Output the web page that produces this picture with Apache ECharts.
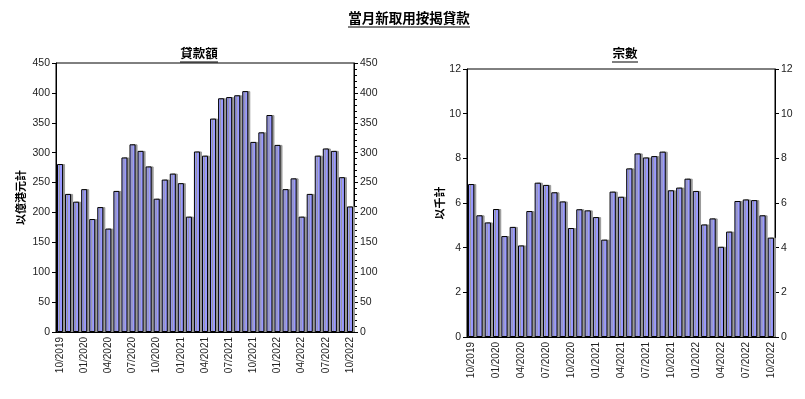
<!DOCTYPE html>
<html><head><meta charset="utf-8">
<script src="https://cdn.jsdelivr.net/npm/echarts@6/dist/echarts.min.js"></script>
<style>html,body{margin:0;padding:0;background:#fff}#c{width:805px;height:399px}</style>
</head><body><div id="c"></div>
<script>
const categories = ["10/2019","11/2019","12/2019","01/2020","02/2020","03/2020","04/2020","05/2020","06/2020","07/2020","08/2020","09/2020","10/2020","11/2020","12/2020","01/2021","02/2021","03/2021","04/2021","05/2021","06/2021","07/2021","08/2021","09/2021","10/2021","11/2021","12/2021","01/2022","02/2022","03/2022","04/2022","05/2022","06/2022","07/2022","08/2022","09/2022","10/2022"];
const loanAmount = [281,231,218,239,189,209,173,236,292,314,303,277,223,255,265,249,193,302,295,357,391,393,396,403,318,334,363,313,239,257,193,231,295,307,303,259,210];
const loanCount = [6.85,5.45,5.13,5.73,4.52,4.93,4.10,5.64,6.91,6.81,6.48,6.07,4.88,5.72,5.67,5.37,4.36,6.51,6.28,7.55,8.22,8.04,8.10,8.30,6.57,6.69,7.09,6.54,5.04,5.31,4.04,4.72,6.09,6.16,6.13,5.45,4.45];
const mainTitle = "當月新取用按揭貸款";
const leftTitle = "貸款額";
const rightTitle = "宗數";
const leftUnit = "以億港元計";
const rightUnit = "以千計";

const font = "'Liberation Sans', Arial, sans-serif";
const cjk = "'Noto Sans CJK TC', 'Noto Sans CJK SC', sans-serif";
const barStyle = {color:'#9999ff', borderColor:'#000', borderWidth:1, shadowColor:'#999', shadowOffsetX:2, shadowOffsetY:0, shadowBlur:0};

function xAxis(gi, tickInt){
  return {type:'category', gridIndex:gi, data:categories, boundaryGap:true,
    axisLine:{lineStyle:{color:'#000', width:1}},
    axisTick:{interval:tickInt, length:4, lineStyle:{color:'#000'}},
    axisLabel:{interval:2, rotate:90, fontSize:10, color:'#222', fontFamily:font, margin:5}};
}
function yAxis(gi, pos, max, interval, name, gap, minor){
  return {type:'value', gridIndex:gi, position:pos, min:0, max:max, interval:interval,
    name:name, nameLocation:'middle', nameGap:gap, nameRotate:90,
    nameTextStyle:{fontFamily:cjk, fontWeight:'bold', fontSize:11, color:'#000'},
    axisLine:{show:true, lineStyle:{color:'#000', width:1}},
    axisTick:{show:true, length:4, inside:false, lineStyle:{color:'#000'}},
    minorTick:{show:minor, splitNumber:5, length:3, lineStyle:{color:'#000'}},
    splitLine:{show:false},
    axisLabel:{fontSize:10.5, color:'#222', fontFamily:font, margin:6}};
}

const chart = echarts.init(document.getElementById('c'), null, {renderer:'canvas'});
chart.setOption({
  animation:false,
  graphic:[
    {type:'text', x:409, y:11, style:{text:mainTitle, font:"bold 13.5px "+cjk, fill:'#000', align:'center'}},
    {type:'line', shape:{x1:348, y1:27, x2:470, y2:27}, style:{stroke:'#000', lineWidth:1.2}},
    {type:'text', x:199, y:47, style:{text:leftTitle, font:"bold 12.5px "+cjk, fill:'#000', align:'center'}},
    {type:'line', shape:{x1:180, y1:62, x2:218, y2:62}, style:{stroke:'#000', lineWidth:1}},
    {type:'text', x:625, y:47, style:{text:rightTitle, font:"bold 12.5px "+cjk, fill:'#000', align:'center'}},
    {type:'line', shape:{x1:612, y1:62, x2:638, y2:62}, style:{stroke:'#000', lineWidth:1}}
  ],
  grid:[
    {left:56, top:63, width:298, height:269, show:true, borderColor:'#000', borderWidth:1, backgroundColor:'transparent'},
    {left:467, top:69, width:308, height:268, show:true, borderColor:'#000', borderWidth:1, backgroundColor:'transparent'}
  ],
  xAxis:[xAxis(0,2), xAxis(1,0)],
  yAxis:[
    yAxis(0,'left',450,50,leftUnit,30,false),
    yAxis(0,'right',450,50,'',0,true),
    yAxis(1,'left',12,2,rightUnit,20,false),
    yAxis(1,'right',12,2,'',0,false)
  ],
  series:[
    {type:'bar', xAxisIndex:0, yAxisIndex:0, data:loanAmount, barCategoryGap:'25%', itemStyle:barStyle},
    {type:'bar', xAxisIndex:1, yAxisIndex:2, data:loanCount, barCategoryGap:'25%', itemStyle:barStyle}
  ]
});
</script></body></html>
